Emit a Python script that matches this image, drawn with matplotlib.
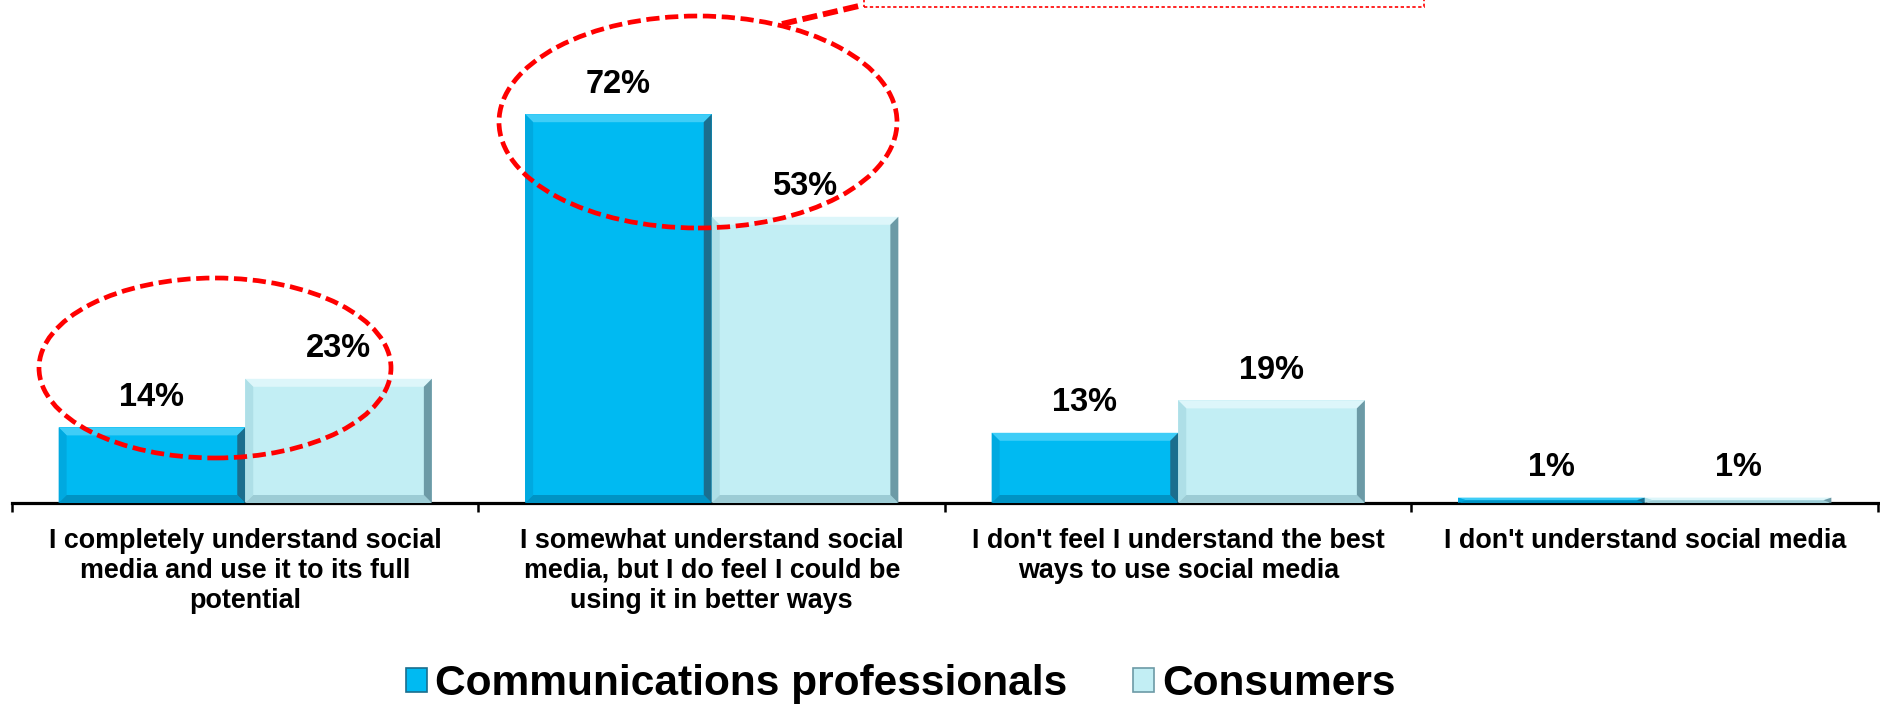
import numpy as np
import matplotlib
matplotlib.use("Agg")
import matplotlib.pyplot as plt
from matplotlib.patches import Polygon, Ellipse, Rectangle, Patch
from matplotlib.lines import Line2D
import matplotlib.transforms as mtransforms

plt.rcParams['font.family'] = ['Liberation Sans', 'DejaVu Sans']

categories = [
    "I completely understand social\nmedia and use it to its full\npotential",
    "I somewhat understand social\nmedia, but I do feel I could be\nusing it in better ways",
    "I don't feel I understand the best\nways to use social media",
    "I don't understand social media",
]
series_names = ["Communications professionals", "Consumers"]
comm_pros = [14, 72, 13, 1]
consumers = [23, 53, 19, 1]

W, H = 1881, 704
fig = plt.figure(figsize=(W / 100, H / 100), dpi=100)

axis_y = 503
px_per_pct = 5.4
ax = fig.add_axes([12 / W, (H - axis_y) / H, (1878 - 12) / W, axis_y / H])
ax.set_xlim(-0.5, 3.5)
ax.set_ylim(0, axis_y / px_per_pct)
for s in ['top', 'right', 'left']:
    ax.spines[s].set_visible(False)
ax.spines['bottom'].set_linewidth(2.3)
ax.set_yticks([])
ax.set_xticks(np.arange(-0.5, 4.0, 1.0))
ax.set_xticklabels([])
ax.tick_params(axis='x', length=6.5, width=1.8, direction='out')

x = np.arange(len(categories))
bw = 0.4
styles = [
    dict(main='#00BAF2', top='#3FCDF7', left='#00A9E0', bottom='#0093C4', right='#1B6E8E'),
    dict(main='#C2EEF4', top='#DDF6FA', left='#AEDFE7', bottom='#9CCCD5', right='#6C9AA6'),
]

def bevel(x0, x1, h, st):
    dx = 8 / 467.0
    dy = min(8 / px_per_pct, h / 2)
    dxx = min(dx, (x1 - x0) / 2)
    polys = [
        ([(x0, h), (x1, h), (x1 - dxx, h - dy), (x0 + dxx, h - dy)], st['top']),
        ([(x0, 0), (x0, h), (x0 + dxx, h - dy), (x0 + dxx, dy)], st['left']),
        ([(x0, 0), (x1, 0), (x1 - dxx, dy), (x0 + dxx, dy)], st['bottom']),
        ([(x1, h), (x1, 0), (x1 - dxx, dy), (x1 - dxx, h - dy)], st['right']),
    ]
    for pts, c in polys:
        ax.add_patch(Polygon(pts, closed=True, facecolor=c, edgecolor='none', zorder=3))

for k, (vals, off) in enumerate([(comm_pros, -bw / 2), (consumers, bw / 2)]):
    st = styles[k]
    bars = ax.bar(x + off, vals, bw, color=st['main'], edgecolor='none', zorder=2)
    for b, v in zip(bars, vals):
        bevel(b.get_x(), b.get_x() + b.get_width(), b.get_height(), st)
        ax.annotate(f"{v}%", (b.get_x() + b.get_width() / 2, v),
                    xytext=(0, 21.5), textcoords='offset points',
                    ha='center', va='center', fontsize=23.5, fontweight='bold', zorder=5)

trans = mtransforms.blended_transform_factory(ax.transData, ax.transAxes)
for i, lab in enumerate(categories):
    ax.text(i, -25 / axis_y, lab, transform=trans, ha='center', va='top',
            fontsize=19.4, fontweight='bold', linespacing=1.2)

# Legend
handles = [Patch(facecolor=styles[0]['main'], edgecolor=styles[0]['right'], linewidth=1.2),
           Patch(facecolor=styles[1]['main'], edgecolor=styles[1]['right'], linewidth=1.2)]
fig.legend(handles, series_names, loc='center', bbox_to_anchor=(901 / W, 20 / H),
           ncol=2, frameon=False, prop=dict(size=30.6, weight='bold'),
           handlelength=0.49, handleheight=0.5, handletextpad=0.19,
           columnspacing=1.55, borderpad=0, borderaxespad=0)

# Annotations (red dashed ellipses and callout)
def fx(px):
    return px / W

def fy(py):
    return (H - py) / H

red = '#FF0000'
for cx, cy, ew, eh in [(215, 368, 352, 180), (698, 122, 398, 212)]:
    fig.patches.append(Ellipse((fx(cx), fy(cy)), ew / W, eh / H, transform=fig.transFigure,
                               fill=False, edgecolor=red, linewidth=3.4,
                               linestyle=(0, (2.8, 1.2)), zorder=10))
fig.lines.append(Line2D([fx(782), fx(863)], [fy(24), fy(5)], transform=fig.transFigure,
                        color=red, linewidth=4.2, linestyle=(0, (2.6, 1.0)), zorder=10))
fig.patches.append(Rectangle((fx(864), fy(7)), (1424 - 864) / W, 20 / H, transform=fig.transFigure,
                             fill=False, edgecolor=red, linewidth=1.2,
                             linestyle=(0, (2.0, 1.5)), zorder=10))

fig.savefig('out.png', dpi=100)
